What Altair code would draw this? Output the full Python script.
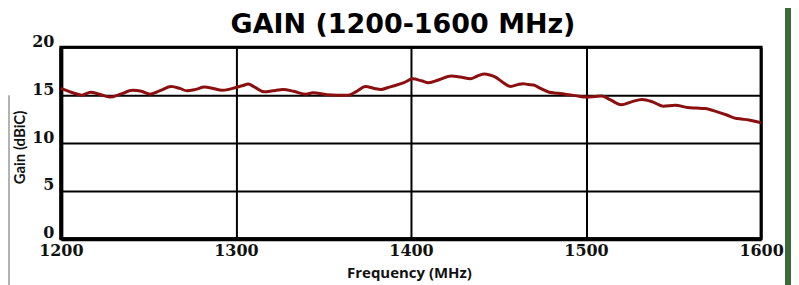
import altair as alt
import pandas as pd

freq = [1200, 1206, 1212, 1217, 1222, 1228, 1234, 1241, 1246, 1251, 1257, 1263, 1268, 1272, 1277,
        1282, 1287, 1292, 1296, 1300, 1304, 1307, 1311, 1316, 1321, 1327, 1333, 1340, 1344, 1352,
        1358, 1364, 1369, 1374, 1379, 1383, 1387, 1391, 1396, 1401, 1406, 1410, 1416, 1423, 1428,
        1434, 1438, 1442, 1445, 1448, 1452, 1457, 1461, 1464, 1467, 1470, 1474, 1479, 1484, 1488,
        1494, 1500, 1505, 1509, 1514, 1520, 1526, 1532, 1538, 1544, 1551, 1558, 1563, 1568, 1575,
        1580, 1585, 1589, 1593, 1597, 1600]
gain = [15.7, 15.3, 15.0, 15.3, 15.1, 14.8, 15.1, 15.5, 15.4, 15.1, 15.5, 15.9, 15.7, 15.45, 15.6,
        15.85, 15.7, 15.5, 15.6, 15.8, 16.0, 16.15, 15.8, 15.35, 15.45, 15.6, 15.4, 15.1, 15.25, 15.05,
        15.0, 15.0, 15.4, 15.9, 15.7, 15.6, 15.8, 16.0, 16.3, 16.7, 16.5, 16.3, 16.6, 17.0, 16.9,
        16.7, 17.0, 17.2, 17.1, 16.9, 16.4, 15.9, 16.1, 16.2, 16.1, 16.05, 15.7, 15.3, 15.2, 15.1,
        14.95, 14.8, 14.85, 14.9, 14.5, 14.0, 14.3, 14.55, 14.3, 13.85, 13.95, 13.7, 13.65, 13.6, 13.25,
        12.95, 12.6, 12.5, 12.4, 12.25, 12.1]

x_ticks = [1200, 1300, 1400, 1500, 1600]
y_ticks = [0, 5, 10, 15, 20]

df = pd.DataFrame({"freq": freq, "gain": gain})

W, H = 702, 192

x_enc = alt.X("freq:Q", scale=alt.Scale(domain=[1200, 1600], nice=False, zero=False),
              axis=alt.Axis(values=x_ticks, title="Frequency (MHz)", format="d",
                            labelFont="DejaVu Serif", labelFontWeight="bold", labelFontSize=16,
                            labelColor="#111", labelPadding=4, tickSize=0,
                            domainColor="#000", domainWidth=4,
                            grid=True, gridColor="#000", gridWidth=2, gridOpacity=1,
                            titleFont="Open Sans", titleFontWeight="bold", titleFontSize=15,
                            titleColor="#111", titleX=349, titleY=39, titleBaseline="alphabetic",
                            labelFlush=False))
y_enc = alt.Y("gain:Q", scale=alt.Scale(domain=[0, 20], nice=False),
              axis=alt.Axis(values=y_ticks, title="Gain (dBiC)",
                            labelFont="DejaVu Serif", labelFontWeight="bold", labelFontSize=16,
                            labelColor="#111", labelPadding=7, tickSize=0, labelOffset=-6,
                            domainColor="#000", domainWidth=4,
                            grid=True, gridColor="#000", gridWidth=2, gridOpacity=1,
                            titleFont="Lato", titleFontWeight="bold", titleFontSize=15,
                            titleColor="#111", titleX=-36, titleY=100, titleAngle=-90,
                            titleBaseline="alphabetic", titleAlign="center"))

line = alt.Chart(df).mark_line(color="#8B0F0F", strokeWidth=3, interpolate="monotone").encode(
    x=x_enc, y=y_enc)

title = alt.Chart(pd.DataFrame({"t": ["GAIN (1200-1600 MHz)"]})).mark_text(
    font="DejaVu Sans", fontWeight="bold", fontSize=27, color="#000", baseline="alphabetic",
    align="center", clip=False
).encode(x=alt.value(343), y=alt.value(-14), text="t:N")

green = alt.Chart(pd.DataFrame({"a": [1]})).mark_rect(color="#3B6B38", clip=False).encode(
    x=alt.value(726), x2=alt.value(734), y=alt.value(-47), y2=alt.value(260))

gray = alt.Chart(pd.DataFrame({"a": [1]})).mark_rule(color="#999", strokeWidth=1.5, clip=False).encode(
    x=alt.value(-52), y=alt.value(48), y2=alt.value(260))

chart = alt.layer(line, title, green, gray).properties(
    width=W, height=H,
    autosize=alt.AutoSizeParams(type="none"),
    padding={"left": 53, "top": 39, "right": 30, "bottom": 46},
    background="white",
).configure_view(stroke="#000", strokeWidth=3)

chart.save("out.html", embed_options={"renderer": "svg", "actions": False})
